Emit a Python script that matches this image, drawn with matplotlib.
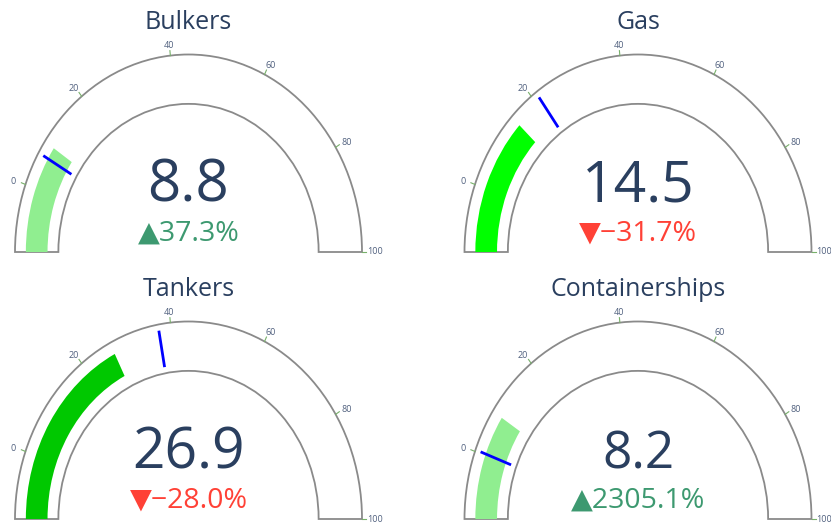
import numpy as np
import matplotlib
matplotlib.use("Agg")
import matplotlib.pyplot as plt
from matplotlib.patches import Wedge

# Gauge data
names = ["Bulkers", "Gas", "Tankers", "Containerships"]
values = [8.8, 14.5, 26.9, 8.2]
deltas = [37.3, -31.7, -28.0, 2305.1]          # % change vs reference
thresholds = [6.4, 21.2, 37.4, 0.34]           # reference values (blue line)
bar_colors = ["lightgreen", "#00ff00", "#00c800", "lightgreen"]
tick_vals = [0, 20, 40, 60, 80, 100]
gauge_min, gauge_max = -12.5, 100

W, H = 831, 525
TEXT = "#2a3f5f"
FONT = ["Open Sans", "DejaVu Sans"]

fig = plt.figure(figsize=(W / 100, H / 100), dpi=100)
fig.patch.set_facecolor("white")

# gauge centres in pixels (x, y of the base line from the top) and unit sizes
centres = [(188.5, 252), (638, 252), (188.5, 519), (638, 519)]
sx, sy = 173.5, 197.5
value_size = [42, 41, 41, 37]


def angle(v):
    # degrees, gauge_min on the left (180) and gauge_max on the right (0)
    return 180.0 * (gauge_max - v) / (gauge_max - gauge_min)


for i, name in enumerate(names):
    cx, by = centres[i]
    x0, x1, y0, y1 = -1.3, 1.3, -0.3, 1.3
    left = (cx + x0 * sx) / W
    bottom = (H - (by - y0 * sy)) / H
    ax = fig.add_axes([left, bottom, (x1 - x0) * sx / W, (y1 - y0) * sy / H])
    ax.set_xlim(x0, x1)
    ax.set_ylim(y0, y1)
    ax.axis("off")

    # gauge background
    ax.add_patch(Wedge((0, 0), 1.0, 0, 180, width=0.25, facecolor="white",
                       edgecolor="#8a8a8a", linewidth=1.3, zorder=1))
    # value bar
    ax.add_patch(Wedge((0, 0), 0.9375, angle(values[i]), 180, width=0.125,
                       facecolor=bar_colors[i], edgecolor="none", zorder=2))
    # threshold line
    t = np.radians(angle(thresholds[i]))
    r = np.array([0.78125, 0.96875])
    ax.plot(r * np.cos(t), r * np.sin(t), color="blue", lw=2, zorder=3,
            solid_capstyle="butt")

    # ticks
    for tv in tick_vals:
        a = np.radians(angle(tv))
        ax.plot([np.cos(a), 1.025 * np.cos(a)], [np.sin(a), 1.025 * np.sin(a)],
                color="#77b06a", lw=0.8, zorder=3)
        ax.text(1.075 * np.cos(a), 1.05 * np.sin(a), str(tv), ha="center",
                va="center", fontsize=6.5, color="#50607e", family=FONT)

    # texts
    ax.text(0, 1.128, name, ha="center", va="baseline", fontsize=18,
            color=TEXT, family=FONT)
    ax.text(0, 0.255, f"{values[i]:.1f}", ha="center", va="baseline",
            fontsize=value_size[i], color=TEXT, family=FONT)
    d = deltas[i]
    if d >= 0:
        s, c = f"▲{d:.1f}%", "#3d9970"
    else:
        s, c = f"▼−{abs(d):.1f}%", "#ff4136"
    ax.text(0, 0.06, s, ha="center", va="baseline", fontsize=20.5, color=c,
            family=FONT)

fig.savefig("out.png", dpi=100)
